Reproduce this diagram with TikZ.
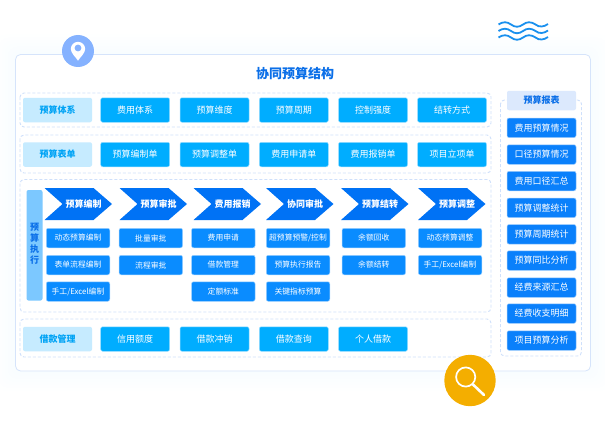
\documentclass[tikz,border=0pt]{standalone}
\usepackage{fontspec}
\setmainfont{Noto Sans CJK SC}
\usepackage{tikz}
\definecolor{cardline}{HTML}{D6E4FB}
\definecolor{dashline}{HTML}{CFE0FB}
\definecolor{rowblue}{HTML}{00ADFF}
\definecolor{labelfill}{HTML}{C6EBFF}
\definecolor{labeltext}{HTML}{00A3F5}
\definecolor{subblue}{HTML}{0A8CFF}
\definecolor{sideblue}{HTML}{0A80FB}
\definecolor{chevblue}{HTML}{0072F5}
\definecolor{titleblue}{HTML}{0B6FE8}
\definecolor{headfill}{HTML}{DCE9FD}
\definecolor{barfill}{HTML}{7CC8FF}
\definecolor{pinfill}{HTML}{85B2FF}
\definecolor{wavecolor}{HTML}{1A90EE}
\definecolor{searchfill}{HTML}{F4AE00}
\tikzset{
  dashbox/.style={draw=dashline, line width=0.9pt, dashed, dash pattern=on 3pt off 2pt, rounded corners=4pt},
  rowbtn/.style={fill=rowblue, draw=rowblue!40, line width=0.5pt, rounded corners=2pt, minimum width=69pt, minimum height=24.5pt, inner sep=0pt, text=white, font=\fontsize{9}{11}\selectfont},
  rowlabel/.style={fill=labelfill, rounded corners=2pt, minimum width=69pt, minimum height=24.5pt, inner sep=0pt, text=labeltext, font=\fontsize{9}{11}\selectfont\bfseries},
  subbtn/.style={fill=subblue, draw=subblue!40, line width=0.5pt, rounded corners=2pt, minimum width=63.5pt, minimum height=19.5pt, inner sep=0pt, text=white, font=\fontsize{7.8}{10}\selectfont},
  sidebtn/.style={fill=sideblue, draw=sideblue!40, line width=0.5pt, rounded corners=2pt, minimum width=69pt, minimum height=19.5pt, inner sep=0pt, text=white, font=\fontsize{9}{11}\selectfont},
  chevron/.style={fill=chevblue},
  chevtext/.style={inner sep=0pt, text=white, font=\fontsize{9}{11}\selectfont\bfseries},
}
\begin{document}
\begin{tikzpicture}[x=1pt, y=-1pt]
  \useasboundingbox (0,0) rectangle (605,428);

  % soft glow around the card
  \foreach \g in {2,5,...,20}
    \fill[blue!30!cyan, opacity=0.004, rounded corners=10pt]
      ({15.5-\g},{54.5-\g}) rectangle ({590.5+\g},{371+\g});
  \draw[fill=white, draw=cardline, line width=0.8pt, rounded corners=5pt] (15.5,54.5) rectangle (590.5,371);

  % pin
  \fill[pinfill] (78,51) circle (16);
  \fill[white] (70.8,49) arc[start angle=180, end angle=360, radius=7.2] .. controls (85.2,53) and (80,57.5) .. (78,60.7) .. controls (76,57.5) and (70.8,53) .. (70.8,49) -- cycle;
  \fill[pinfill] (78,48) circle (3.4);

  % waves
  \foreach \y in {24.5,31,37.5}
    \draw[wavecolor, line width=1.8pt]
      (498.5,\y) .. controls (503,{\y-3}) and (507,{\y-3}) .. (511,\y)
      .. controls (515,{\y+3}) and (519,{\y+3}) .. (523,\y)
      .. controls (527,{\y-3}) and (531,{\y-3}) .. (535.5,\y)
      .. controls (539,{\y+3}) and (544,{\y+2.5}) .. (548,{\y-0.5});

  \node[text=titleblue, inner sep=0pt, font=\fontsize{13}{15}\selectfont\bfseries] (title) at (295,73.5) {协同预算结构};

  % dashed groups
  \draw[dashbox] (20,93) rectangle (491,127);
  \draw[dashbox] (20,135) rectangle (491,173);
  \draw[dashbox] (20,179.5) rectangle (491,312);
  \draw[dashbox] (20,319) rectangle (491,357);
  \draw[dashbox] (500.5,100) rectangle (581.5,356);

  % left labels
  \node[rowlabel] (tixi) at (57.5,110) {预算体系};
  \node[rowlabel] (biaodan) at (57.5,154.5) {预算表单};
  \node[rowlabel] (jiekuan) at (57.5,339) {借款管理};

  % rows of buttons
  \foreach \x/\n/\t in {135.2/a/费用体系, 214.5/b/预算维度, 293.8/c/预算周期, 373/d/控制强度, 452/e/结转方式}
    \node[rowbtn] (tixi\n) at (\x,110) {\t};
  \foreach \x/\n/\t in {135.2/a/预算编制单, 214.5/b/预算调整单, 293.8/c/费用申请单, 373/d/费用报销单, 452/e/项目立项单}
    \node[rowbtn] (biaodan\n) at (\x,154.5) {\t};
  \foreach \x/\n/\t in {135.2/a/信用额度, 214.5/b/借款冲销, 293.8/c/借款查询, 373/d/个人借款}
    \node[rowbtn] (jiekuan\n) at (\x,339) {\t};

  % execution part
  \fill[barfill, rounded corners=2pt] (26.5,190) rectangle (42.5,300.5);
  \node[align=center, inner sep=0pt, text=titleblue, font=\fontsize{9}{11}\selectfont\bfseries] (zhixing) at (34.5,243.5) {预\\算\\执\\行};

  \foreach \x/\n/\t in {44.5/a/预算编制, 119.5/b/预算审批, 193.5/c/费用报销, 266/d/协同审批, 341/e/预算结转, 418/f/预算调整} {
    \fill[chevron] (\x,188) -- ++(49,0) -- ++(18.5,16) -- ++(-18.5,16) -- ++(-49,0) -- ++(18,-16) -- cycle;
    \node[chevtext] (head\n) at ({\x+39},204) {\t};
  }

  \foreach \x/\y/\n/\t in {
    78/238/a1/动态预算编制, 78/265/a2/表单流程编制, 78/291.5/a3/{手工/Excel编制},
    150.8/238/b1/批量审批, 150.8/265/b2/流程审批,
    223.3/238/c1/费用申请, 223.3/265/c2/借款管理, 223.3/291.5/c3/定额标准,
    298/238/d1/{超预算预警/控制}, 298/265/d2/预算执行报告, 298/291.5/d3/关键指标预算,
    373.8/238/e1/余额回收, 373.8/265/e2/余额结转,
    450/238/f1/动态预算调整, 450/265/f2/{手工/Excel编制}}
    \node[subbtn] (sub\n) at (\x,\y) {\t};

  % report column
  \node[rowlabel, fill=headfill, text=titleblue, minimum height=19.5pt] (baobiao) at (541.5,100.5) {预算报表};
  \foreach \y/\n/\t in {127.8/a/费用预算情况, 154.5/b/口径预算情况, 181/c/费用口径汇总, 207.8/d/预算调整统计, 234.3/e/预算周期统计, 260.5/f/预算同比分析, 287.5/g/经费来源汇总, 313.5/h/经费收支明细, 340.5/i/项目预算分析}
    \node[sidebtn] (report\n) at (541.5,\y) {\t};

  % search badge
  \fill[searchfill] (470,380.5) circle (25.7);
  \draw[white, line width=1.7pt] (465.7,377) circle (9.6);
  \draw[white, line width=2.6pt, line cap=round] (473,384.5) -- (484,395);
\end{tikzpicture}
\end{document}
